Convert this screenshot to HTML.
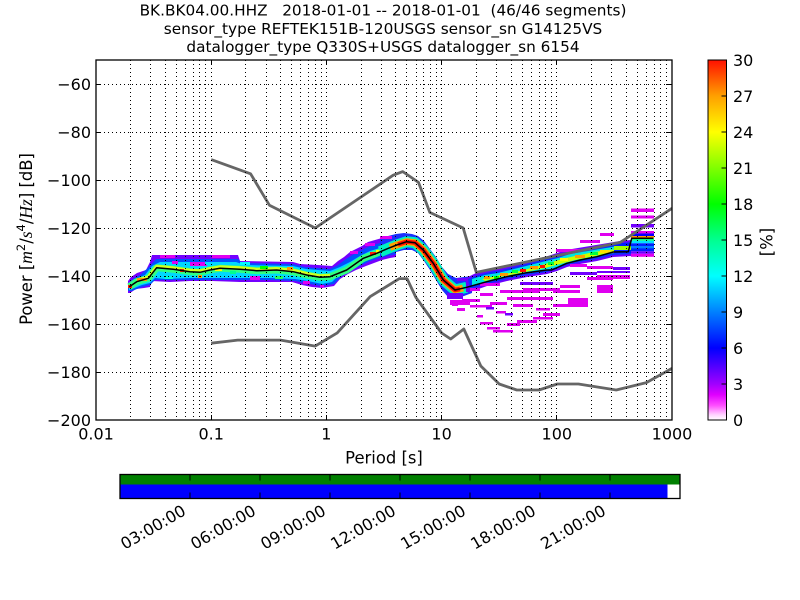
<!DOCTYPE html>
<html><head><meta charset="utf-8"><style>html,body{margin:0;padding:0;background:#fff}svg{display:block}</style></head>
<body>
<svg width="800" height="600" viewBox="0 0 800 600" font-family="'DejaVu Sans','Liberation Sans',sans-serif">
<defs>
<clipPath id="ax"><rect x="96" y="60" width="576" height="360"/></clipPath>
<linearGradient id="cb" x1="0" y1="1" x2="0" y2="0">
<stop offset="0" stop-color="#ffffff"/>
<stop offset="0.015" stop-color="#ffd0ff"/>
<stop offset="0.04" stop-color="#ff50ff"/>
<stop offset="0.07" stop-color="#e000ff"/>
<stop offset="0.1" stop-color="#a000ff"/>
<stop offset="0.15" stop-color="#5000ff"/>
<stop offset="0.2" stop-color="#0000ff"/>
<stop offset="0.3" stop-color="#0080ff"/>
<stop offset="0.4" stop-color="#00ffff"/>
<stop offset="0.5" stop-color="#00ff90"/>
<stop offset="0.6" stop-color="#00ff00"/>
<stop offset="0.7" stop-color="#80ff00"/>
<stop offset="0.8" stop-color="#ffff00"/>
<stop offset="0.9" stop-color="#ffa000"/>
<stop offset="1" stop-color="#ff1000"/>
</linearGradient>
</defs>
<rect width="800" height="600" fill="#fff"/>

<!-- title -->
<g font-size="15.3" text-anchor="middle" fill="#000">
<text x="383" y="15.5" xml:space="preserve">BK.BK04.00.HHZ   2018-01-01 -- 2018-01-01  (46/46 segments)</text>
<text x="383" y="33.8">sensor_type REFTEK151B-120USGS sensor_sn G14125VS</text>
<text x="383" y="52">datalogger_type Q330S+USGS datalogger_sn 6154</text>
</g>

<!-- data -->
<g clip-path="url(#ax)">
<!-- Region A -->
<polygon fill="#7400ff" points="128,281 131,277 137,273 146,270 150,262 152,255 238,255 240,261 293,262 300,264 318,265 332,266 338,261 344,257 350,252 356,249 362,246 368,242 375,240 382,238 390,236 396,235 396,257 390,258 382,260 374,263 366,266 356,270 348,274 340,279 334,286 322,288 312,287 302,285 292,282 270,282 240,282 212,281 190,281 170,282 152,281 150,287 144,288 136,289 130,293 128,293"/>
<polygon fill="#0050ff" points="128,284 133,279 140,275 150,266 156,259 238,259 242,263 293,264 305,267 330,269 338,265 346,259 354,254 362,250 370,246 380,243 390,240 396,239 396,254 388,256 380,258 370,261 360,266 350,271 342,276 334,284 322,286 310,284 295,281 270,280 240,280 212,280 190,280 170,280 155,280 150,285 142,287 132,291 128,291"/>
<polygon fill="#00d8ff" points="129,284 136,279 145,275 152,266 160,262 236,262 245,265 293,266 306,269 330,271 340,267 350,262 360,256 370,251 380,248 390,244 396,243 396,251 388,253 378,256 368,260 358,265 348,270 340,274 332,282 322,284 308,281 295,279 270,278 240,278 212,278 190,278 165,279 155,278 150,283 142,285 132,289 129,290"/>
<polyline fill="none" stroke="#30ff80" stroke-width="7" stroke-linejoin="round" points="129.3,286.7 136.7,281.7 148.3,278.3 156.7,267.7 173.3,269.3 190,271.7 200,272.3 210,270 220,268.3 240,269.3 256.7,270.7 276.7,270 293.3,271.7 306.7,275 320,277.3 330,276.7 346.7,270 363.3,258.3 376.7,253.3 388.3,248.3"/>
<polyline fill="none" stroke="#d0ff20" stroke-width="3" stroke-linejoin="round" transform="translate(0,-1.5)" points="136.7,281.7 148.3,278.3 156.7,267.7 173.3,269.3 190,271.7 200,272.3 210,270 220,268.3 240,269.3 256.7,270.7 276.7,270 293.3,271.7 306.7,275 320,277.3 330,276.7"/>
<g fill="#e000f0">
<rect x="172" y="261" width="6" height="3"/><rect x="190" y="262" width="17" height="4"/><rect x="212" y="255" width="18" height="3"/>
<rect x="250" y="276" width="10" height="4"/><rect x="303" y="281" width="7" height="3"/><rect x="320" y="285" width="4" height="2.5"/>
<rect x="160" y="255" width="15" height="3"/><rect x="350" y="251" width="8" height="3"/><rect x="365" y="243" width="10" height="3"/><rect x="380" y="237" width="9" height="2.5"/>
</g>
<g>
<rect x="198" y="275" width="4" height="3" fill="#ff9900"/><rect x="215" y="268" width="7" height="3" fill="#ffff00"/>
<rect x="287" y="267" width="6" height="3" fill="#ff9900"/><rect x="180" y="269" width="4" height="3" fill="#ff2000"/>
<rect x="128" y="285" width="4" height="3" fill="#ff2000"/><rect x="137" y="278" width="10" height="3" fill="#ff9900"/>
<rect x="370" y="252" width="6" height="3" fill="#ff2000"/><rect x="376" y="250" width="6" height="3" fill="#ffff00"/>
<rect x="260" y="266" width="8" height="3" fill="#00ff00"/><rect x="230" y="271" width="6" height="3" fill="#00ff90"/>
<rect x="165" y="276" width="8" height="3" fill="#00ffd0"/><rect x="240" y="262" width="10" height="3" fill="#00ffff"/>
<rect x="275" y="276" width="8" height="3" fill="#20ff60"/><rect x="205" y="262" width="6" height="3" fill="#00e0ff"/>
</g>

<!-- Region B -->
<polygon fill="#1a30ff" points="380,237 388,236 396,234 404,233 412,234 418,236 424,241 430,249 436,257 442,267 448,274 456,278 464,277 472,276 472,293 464,296 456,298 448,297 442,290 436,280 430,270 424,261 418,253 412,250 404,250 396,252 388,256 380,258"/>
<rect x="380" y="236" width="12" height="3" fill="#e000f0"/>
<polyline fill="none" stroke="#00f0c0" stroke-width="11" stroke-linejoin="round" points="380,251.7 388.3,248.3 396.7,245 406.7,241.7 415,242.7 423.3,250 433.3,263.3 443.3,280 455,290 466.7,287.3"/>
<polyline fill="none" stroke="#ffa000" stroke-width="7" stroke-linejoin="round" points="390,247.5 396.7,245 406.7,241.7 415,242.7 423.3,250 433.3,263.3 443.3,280 455,290 463,288"/>
<polyline fill="none" stroke="#ff1000" stroke-width="4.5" stroke-linejoin="round" points="398,244.5 406.7,241.7 415,242.7 423.3,250 433.3,263.3 443.3,280 455,290 460,289"/>
<rect x="450" y="300" width="20" height="5" fill="#e000f0"/>

<!-- Region C -->
<polygon fill="#6a00ff" points="466,278 476,273 488,270 500,268 512,265 524,262 536,259 548,256 560,252 572,249 584,247 596,245 608,243 620,241 631,240 631,256 613,257 597,261 580,264 567,267 557,271 547,274 527,277 507,281 487,286 470,292 466,292"/>
<polygon fill="#0a30ff" points="468,279 478,275 490,272 502,270 514,267 526,264 538,261 550,258 562,254 574,251 586,249 598,247 610,245 622,243 631,242 631,254 613,255 597,259 580,262 567,265 557,269 547,272 527,275 507,279 487,284 470,289"/>
<polygon fill="#00e8e0" points="472,279 485,275 498,273 510,270 522,267 534,264 546,261 558,258 570,254 582,252 594,250 606,248 618,246 631,245 631,252 613,253 597,257 580,260 567,263 557,267 547,270 527,273 507,277 487,282 472,286"/>
<polygon fill="#c8ff00" points="482,279 496,276 510,273 524,270 538,266 552,262 566,258 580,255 594,252 608,250 622,249 622,252 605,254 590,257 575,260 560,264 545,268 530,271 515,274 500,277 485,281"/>
<g>
<rect x="484" y="276" width="6" height="3" fill="#ff9900"/><rect x="500" y="273" width="8" height="3" fill="#ff9900"/>
<rect x="520" y="269" width="6" height="3" fill="#ff1000"/><rect x="530" y="266" width="8" height="3" fill="#ff9900"/>
<rect x="540" y="265" width="5" height="3" fill="#ff1000"/><rect x="548" y="262" width="6" height="3" fill="#00ff40"/>
<rect x="560" y="258" width="8" height="3" fill="#ffff00"/><rect x="575" y="255" width="10" height="3" fill="#ffa000"/>
<rect x="590" y="252" width="8" height="3" fill="#00ff40"/><rect x="600" y="250" width="10" height="3" fill="#ffe000"/>
<rect x="512" y="270" width="6" height="3" fill="#00ff40"/><rect x="494" y="276" width="5" height="3" fill="#00ff00"/>
<rect x="580" y="240" width="20" height="3" fill="#e000f0"/><rect x="600" y="233" width="14" height="3" fill="#e000f0"/>
<rect x="556" y="249" width="24" height="3" fill="#e000f0"/>
</g>
<!-- block at long periods -->
<rect x="631" y="208.5" width="23" height="3.5" fill="#e000f0"/>
<rect x="631" y="215.5" width="23" height="3" fill="#e000f0"/>
<rect x="631" y="224" width="23" height="3.5" fill="#7000ff"/>
<rect x="631" y="231" width="23" height="2.5" fill="#e000f0"/>
<rect x="631" y="233.5" width="23" height="2.5" fill="#0000ff"/>
<rect x="631" y="236" width="23" height="2.3" fill="#ff9900"/>
<rect x="631" y="238.3" width="23" height="2.5" fill="#00ff80"/>
<rect x="631" y="240.8" width="23" height="2.5" fill="#00e0ff"/>
<rect x="631" y="243.3" width="23" height="8" fill="#0020ff"/>
<rect x="631" y="246" width="23" height="2.4" fill="#0080ff"/>
<rect x="631" y="251.3" width="23" height="2.5" fill="#7000ff"/>
<rect x="631" y="253.8" width="23" height="3" fill="#e000f0"/>
<rect x="614" y="243" width="17" height="3" fill="#0020ff"/>
<rect x="614" y="246" width="17" height="4" fill="#a0ff00"/>
<rect x="614" y="250" width="17" height="3" fill="#0020ff"/>
<!-- scattered low-probability cells -->
<g fill="#e000f0">
<rect x="462" y="299" width="18" height="3"/><rect x="470" y="305" width="22" height="2.5"/><rect x="452" y="303" width="6" height="3"/>
<rect x="457" y="308" width="8" height="3"/><rect x="477" y="315" width="6" height="2.5"/><rect x="480" y="322" width="13" height="2.5"/>
<rect x="487" y="327" width="13" height="2.5"/><rect x="493" y="330" width="20" height="2.5"/><rect x="507" y="323" width="13" height="3"/>
<rect x="517" y="320" width="20" height="3"/><rect x="533" y="317" width="20" height="2.5"/><rect x="543" y="313" width="17" height="3"/>
<rect x="507" y="297" width="20" height="3"/><rect x="490" y="302" width="17" height="3"/><rect x="513" y="304" width="20" height="3"/>
<rect x="553" y="304" width="27" height="3"/><rect x="568" y="298" width="20" height="9"/><rect x="527" y="297" width="26" height="3"/>
<rect x="500" y="290" width="40" height="3"/><rect x="480" y="283" width="20" height="3"/><rect x="523" y="288" width="37" height="3"/>
<rect x="560" y="285" width="20" height="3"/><rect x="587" y="277" width="26" height="3"/><rect x="597" y="285" width="16" height="8"/>
<rect x="597" y="275" width="33" height="3"/><rect x="570" y="264" width="17" height="3"/><rect x="587" y="266" width="26" height="3"/>
<rect x="480" y="293" width="13" height="3"/><rect x="470" y="288" width="10" height="3"/><rect x="553" y="290" width="27" height="3"/>
<rect x="613" y="276" width="17" height="3"/><rect x="536" y="308" width="14" height="2.5"/><rect x="496" y="311" width="10" height="2.5"/>
</g>
<g fill="#7000ff">
<rect x="457" y="278" width="11" height="3"/><rect x="520" y="282" width="33" height="3"/><rect x="570" y="272" width="27" height="3"/>
<rect x="447" y="293" width="16" height="6"/><rect x="613" y="267" width="17" height="3"/><rect x="597" y="271" width="33" height="2"/>
<rect x="486" y="307" width="8" height="2.5"/><rect x="505" y="313" width="8" height="2.5"/>
</g>

<!-- noise models -->
<polyline fill="none" stroke="#666" stroke-width="2.8" stroke-linejoin="round" points="211.2,159.6 250.6,173.8 269.4,205.2 315.2,228 393.2,175.2 402.8,171.6 418.5,182.4 429.8,212.4 463.2,228 476.3,272.4 620.2,242.4 672,208.3"/>
<polyline fill="none" stroke="#666" stroke-width="2.8" stroke-linejoin="round" points="211.2,343.2 237.7,340.1 280.6,340.1 315.2,346.1 337.2,332.9 370.2,296.6 399.4,278.6 407,278.6 416,297.6 441.6,333 450.7,339 463.8,329 480.8,366 499.2,384 516.8,390 539,390 557.3,384 578.4,384 616.2,390 646.4,382.6 672,368.4"/>

<!-- mean -->
<polyline fill="none" stroke="#000" stroke-width="1.5" stroke-linejoin="round" points="129.3,286.7 136.7,281.7 148.3,278.3 156.7,267.7 173.3,269.3 190,271.7 200,272.3 210,270 220,268.3 240,269.3 256.7,270.7 276.7,270 293.3,271.7 306.7,275 320,277.3 330,276.7 346.7,270 363.3,258.3 376.7,253.3 388.3,248.3 396.7,245 406.7,241.7 415,242.7 423.3,250 433.3,263.3 443.3,280 455,290 466.7,287.3 486.7,281.7 506.7,276.7 526.7,272.7 546.7,270 551.7,270 566.7,263.3 580,260 596.7,256.7 613.3,252 628.3,251.7 631.7,238.3 653.3,238.3"/>
</g>

<!-- grid -->
<path fill="none" stroke="#000" stroke-width="1" stroke-dasharray="1 3" shape-rendering="crispEdges" d="
M130.5 60V420M150.5 60V420M165.5 60V420M176.5 60V420M185.5 60V420M193.5 60V420M199.5 60V420M205.5 60V420M211.5 60V420
M245.5 60V420M266.5 60V420M280.5 60V420M291.5 60V420M300.5 60V420M308.5 60V420M315.5 60V420M321.5 60V420M326.5 60V420
M361.5 60V420M381.5 60V420M395.5 60V420M406.5 60V420M416.5 60V420M423.5 60V420M430.5 60V420M436.5 60V420M441.5 60V420
M476.5 60V420M496.5 60V420M511.5 60V420M522.5 60V420M531.5 60V420M539.5 60V420M545.5 60V420M551.5 60V420M556.5 60V420
M591.5 60V420M611.5 60V420M626.5 60V420M637.5 60V420M646.5 60V420M654.5 60V420M660.5 60V420M666.5 60V420
M96 84.5H672M96 132.5H672M96 180.5H672M96 228.5H672M96 276.5H672M96 324.5H672M96 372.5H672"/>

<!-- ticks -->
<path fill="none" stroke="#000" stroke-width="1" d="
M96 84.5h5M96 132.5h5M96 180.5h5M96 228.5h5M96 276.5h5M96 324.5h5M96 372.5h5
M672 84.5h-5M672 132.5h-5M672 180.5h-5M672 228.5h-5M672 276.5h-5M672 324.5h-5M672 372.5h-5
M211.5 420v-5M326.5 420v-5M441.5 420v-5M556.5 420v-5M211.5 60v5M326.5 60v5M441.5 60v5M556.5 60v5"/>
<rect x="96" y="60" width="576" height="360" fill="none" stroke="#000" stroke-width="1.3"/>

<!-- tick labels -->
<g font-size="16" fill="#000" text-anchor="end">
<text x="91" y="89.8">−60</text><text x="91" y="137.8">−80</text><text x="91" y="185.8">−100</text><text x="91" y="233.8">−120</text>
<text x="91" y="281.8">−140</text><text x="91" y="329.8">−160</text><text x="91" y="377.8">−180</text><text x="91" y="425.8">−200</text>
</g>
<g font-size="16" fill="#000" text-anchor="middle">
<text x="96" y="439.5">0.01</text><text x="211.2" y="439.5">0.1</text><text x="326.4" y="439.5">1</text>
<text x="441.6" y="439.5">10</text><text x="556.8" y="439.5">100</text><text x="672" y="439.5">1000</text>
<text x="384" y="463.5" font-size="16.4">Period [s]</text>
</g>
<text transform="translate(32,239) rotate(-90)" text-anchor="middle" font-size="16.4" fill="#000">Power [<tspan font-family="'Liberation Serif',serif" font-style="italic" font-size="17.5">m</tspan><tspan font-size="11.5" dy="-7">2</tspan><tspan dy="7">/</tspan><tspan font-family="'Liberation Serif',serif" font-style="italic" font-size="17.5">s</tspan><tspan font-size="11.5" dy="-7">4</tspan><tspan dy="7">/</tspan><tspan font-family="'Liberation Serif',serif" font-style="italic" font-size="17.5">Hz</tspan>] [dB]</text>

<!-- colorbar -->
<rect x="708" y="60" width="18.5" height="360" fill="url(#cb)" stroke="#000" stroke-width="1"/>
<path fill="none" stroke="#000" stroke-width="1" d="M726.5 384h-5M726.5 348h-5M726.5 312h-5M726.5 276h-5M726.5 240h-5M726.5 204h-5M726.5 168h-5M726.5 132h-5M726.5 96h-5"/>
<g font-size="16" fill="#000">
<text x="733" y="425.8">0</text><text x="733" y="389.8">3</text><text x="733" y="353.8">6</text><text x="733" y="317.8">9</text>
<text x="733" y="281.8">12</text><text x="733" y="245.8">15</text><text x="733" y="209.8">18</text><text x="733" y="173.8">21</text>
<text x="733" y="137.8">24</text><text x="733" y="101.8">27</text><text x="733" y="65.8">30</text>
</g>
<text transform="translate(772.5,242) rotate(-90)" text-anchor="middle" font-size="16.4" fill="#000">[%]</text>

<!-- time coverage bar -->
<rect x="120" y="474.5" width="560" height="10" fill="#008000"/>
<rect x="120" y="484.5" width="547.5" height="14" fill="#0000ff"/>
<rect x="667.5" y="484.5" width="12.5" height="14" fill="#fff"/>
<rect x="120" y="474.5" width="560" height="24" fill="none" stroke="#000" stroke-width="1.3"/>
<path fill="none" stroke="#000" stroke-width="1" d="M190 474.5v6M260 474.5v6M330 474.5v6M400 474.5v6M470 474.5v6M540 474.5v6M610 474.5v6M190 498.5v-6M260 498.5v-6M330 498.5v-6M400 498.5v-6M470 498.5v-6M540 498.5v-6M610 498.5v-6"/>
<g font-size="16" fill="#000" text-anchor="end">
<text x="187" y="514" transform="rotate(-30 187 514)">03:00:00</text>
<text x="257" y="514" transform="rotate(-30 257 514)">06:00:00</text>
<text x="327" y="514" transform="rotate(-30 327 514)">09:00:00</text>
<text x="397" y="514" transform="rotate(-30 397 514)">12:00:00</text>
<text x="467" y="514" transform="rotate(-30 467 514)">15:00:00</text>
<text x="537" y="514" transform="rotate(-30 537 514)">18:00:00</text>
<text x="607" y="514" transform="rotate(-30 607 514)">21:00:00</text>
</g>
</svg>
</body></html>
